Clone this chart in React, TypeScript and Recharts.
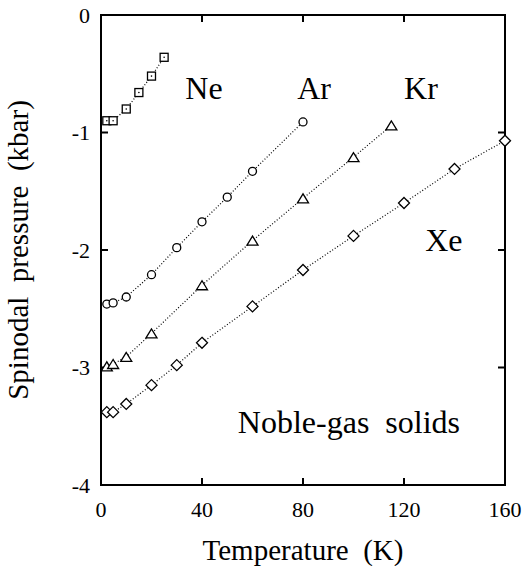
import { ReferenceDot, Scatter, ScatterChart, XAxis, YAxis } from "recharts";

const FONT = "Liberation Serif";

// temperatures (K) and spinodal pressures (kbar) for each solid
const neT = [2.3, 4.8, 10, 15, 20, 25];
const neP = [-0.9, -0.9, -0.8, -0.66, -0.52, -0.36];
const arT = [2.3, 4.8, 10, 20, 30, 40, 50, 60, 80];
const arP = [-2.46, -2.45, -2.4, -2.21, -1.98, -1.76, -1.55, -1.33, -0.91];
const krT = [2.3, 4.8, 10, 20, 40, 60, 80, 100, 115];
const krP = [-2.99, -2.97, -2.91, -2.71, -2.3, -1.92, -1.56, -1.21, -0.94];
const xeT = [2.3, 4.8, 10, 20, 30, 40, 60, 80, 100, 120, 140, 160];
const xeP = [-3.38, -3.38, -3.31, -3.15, -2.98, -2.79, -2.48, -2.17, -1.88, -1.6, -1.31, -1.07];

const xTicks = [0, 40, 80, 120, 160];
const yTicks = [0, -1, -2, -3, -4];
const X0 = 0, X1 = 160, Y0 = -4, Y1 = 0;

// in-plot labels: text, T, P
const notes: [string, number, number][] = [
  ["Ne", 40.8, -0.62],
  ["Ar", 84.4, -0.62],
  ["Kr", 126.7, -0.62],
  ["Xe", 135.8, -1.91],
  ["Noble-gas\u00a0 solids", 98.2, -3.46],
];

const toPoints = (t: number[], p: number[]) => t.map((x, i) => ({ t: x, p: p[i] }));

// chart layout
const W = 524;
const H = 566;
const MARGIN = { top: 15, right: 19, bottom: 0, left: 0 };
const Y_AXIS_W = 101;
const X_AXIS_H = 81;
const plot = {
  left: MARGIN.left + Y_AXIS_W,
  top: MARGIN.top,
  right: W - MARGIN.right,
  bottom: H - MARGIN.bottom - X_AXIS_H,
};
const TICK = 7;

const dotted = { stroke: "#000", strokeWidth: 1.2, strokeDasharray: "1 2" };
const mark = { stroke: "#000", strokeWidth: 1.3, fill: "#fff" };

const Square = ({ cx, cy }: any) => (
  <g>
    <rect x={cx - 4} y={cy - 4} width={8} height={8} {...mark} />
    <circle cx={cx} cy={cy} r={0.8} fill="#000" />
  </g>
);
const Circle = ({ cx, cy }: any) => <circle cx={cx} cy={cy} r={4} {...mark} />;
const Triangle = ({ cx, cy }: any) => (
  <polygon points={`${cx},${cy - 4.5} ${cx - 5.5},${cy + 4.5} ${cx + 5.5},${cy + 4.5}`} {...mark} />
);
const Diamond = ({ cx, cy }: any) => (
  <polygon points={`${cx},${cy - 5.5} ${cx + 5.5},${cy} ${cx},${cy + 5.5} ${cx - 5.5},${cy}`} {...mark} />
);

const tickStyle = { fill: "#000", fontSize: 22, fontFamily: FONT };

// box around the plot with inward ticks on all four sides
function Frame() {
  const px = (t: number) => plot.left + ((t - X0) / (X1 - X0)) * (plot.right - plot.left);
  const py = (p: number) => plot.bottom - ((p - Y0) / (Y1 - Y0)) * (plot.bottom - plot.top);
  const d: string[] = [];
  xTicks
    .filter((t) => t > X0 && t < X1)
    .forEach((t) => {
      d.push(`M${px(t)},${plot.bottom} v${-TICK}`);
      d.push(`M${px(t)},${plot.top} v${TICK}`);
    });
  yTicks
    .filter((p) => p > Y0 && p < Y1)
    .forEach((p) => {
      d.push(`M${plot.left},${py(p)} h${TICK}`);
      d.push(`M${plot.right},${py(p)} h${-TICK}`);
    });
  return (
    <svg width={W} height={H} style={{ position: "absolute", left: 0, top: 0 }}>
      <rect
        x={plot.left}
        y={plot.top}
        width={plot.right - plot.left}
        height={plot.bottom - plot.top}
        fill="none"
        stroke="#000"
        strokeWidth={2}
      />
      <path d={d.join(" ")} stroke="#000" strokeWidth={2} fill="none" />
    </svg>
  );
}

const XTitle = ({ viewBox }: any) => (
  <text
    x={viewBox.x + viewBox.width / 2}
    y={560}
    textAnchor="middle"
    fontSize={29}
    fontFamily={FONT}
    fill="#000"
  >
    {"Temperature\u00a0 (K)"}
  </text>
);

const YTitle = ({ viewBox }: any) => {
  const cy = viewBox.y + viewBox.height / 2;
  return (
    <text
      x={28}
      y={cy}
      transform={`rotate(-90 28 ${cy})`}
      textAnchor="middle"
      fontSize={29}
      fontFamily={FONT}
      fill="#000"
    >
      {"Spinodal\u00a0 pressure\u00a0 (kbar)"}
    </text>
  );
};

export default function App() {
  return (
    <div style={{ position: "absolute", left: 0, top: 0, width: W, height: H, background: "#fff" }}>
      <Frame />
      <div style={{ position: "absolute", left: 0, top: 0 }}>
        <ScatterChart width={W} height={H} margin={MARGIN}>
          <XAxis
            xAxisId="b"
            type="number"
            dataKey="t"
            domain={[X0, X1]}
            ticks={xTicks}
            height={X_AXIS_H}
            tickSize={0}
            tickMargin={16}
            tick={tickStyle}
            axisLine={false}
            tickLine={false}
            label={{ content: XTitle }}
          />
          <YAxis
            yAxisId="l"
            type="number"
            dataKey="p"
            domain={[Y0, Y1]}
            ticks={yTicks}
            width={Y_AXIS_W}
            tickSize={0}
            tickMargin={11}
            tick={tickStyle}
            axisLine={false}
            tickLine={false}
            label={{ content: YTitle }}
          />

          <Scatter xAxisId="b" yAxisId="l" data={toPoints(neT, neP)} line={dotted} shape={Square} isAnimationActive={false} />
          <Scatter xAxisId="b" yAxisId="l" data={toPoints(arT, arP)} line={dotted} shape={Circle} isAnimationActive={false} />
          <Scatter xAxisId="b" yAxisId="l" data={toPoints(krT, krP)} line={dotted} shape={Triangle} isAnimationActive={false} />
          <Scatter xAxisId="b" yAxisId="l" data={toPoints(xeT, xeP)} line={dotted} shape={Diamond} isAnimationActive={false} />

          {notes.map(([text, t, p]) => (
            <ReferenceDot
              key={text}
              xAxisId="b"
              yAxisId="l"
              x={t}
              y={p}
              r={1}
              fill="none"
              stroke="none"
              label={{ value: text, fontSize: 32, fontFamily: FONT, fill: "#000" }}
            />
          ))}
        </ScatterChart>
      </div>
    </div>
  );
}
